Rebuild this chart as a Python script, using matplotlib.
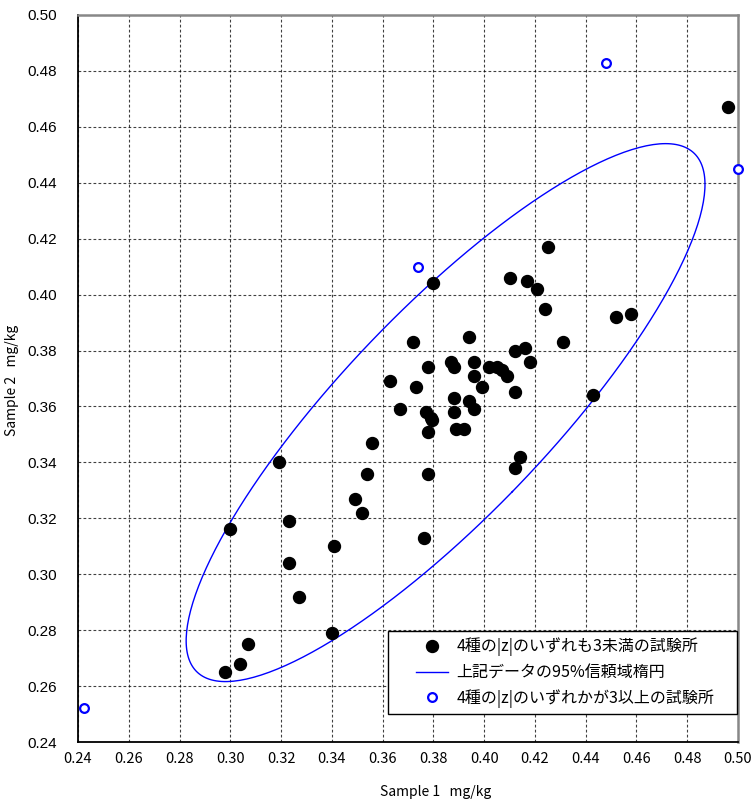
import numpy as np
import matplotlib
matplotlib.use("Agg")
import matplotlib.pyplot as plt
from matplotlib.lines import Line2D
from matplotlib.legend_handler import HandlerLine2D

plt.rcParams['font.family'] = ['Noto Sans CJK JP', 'DejaVu Sans']

# labs with all four |z| < 3
ok_x = [0.496, 0.425, 0.410, 0.417, 0.421, 0.424, 0.380, 0.394, 0.372, 0.431,
        0.412, 0.416, 0.418, 0.387, 0.388, 0.396, 0.378, 0.402, 0.405, 0.407,
        0.409, 0.396, 0.363, 0.373, 0.399, 0.412, 0.443, 0.388, 0.394, 0.367,
        0.377, 0.388, 0.396, 0.379, 0.3795, 0.378, 0.389, 0.392, 0.356, 0.414,
        0.412, 0.378, 0.354, 0.349, 0.352, 0.319, 0.300, 0.323, 0.341, 0.323,
        0.327, 0.340, 0.307, 0.304, 0.298, 0.3765, 0.452, 0.458]
ok_y = [0.467, 0.417, 0.406, 0.405, 0.402, 0.395, 0.404, 0.385, 0.383, 0.383,
        0.380, 0.381, 0.376, 0.376, 0.374, 0.376, 0.374, 0.374, 0.374, 0.373,
        0.371, 0.371, 0.369, 0.367, 0.367, 0.365, 0.364, 0.363, 0.362, 0.359,
        0.358, 0.358, 0.359, 0.356, 0.355, 0.351, 0.352, 0.352, 0.347, 0.342,
        0.338, 0.336, 0.336, 0.327, 0.322, 0.340, 0.316, 0.319, 0.310, 0.304,
        0.292, 0.279, 0.275, 0.268, 0.265, 0.313, 0.392, 0.393]

# labs with at least one |z| >= 3
out_x = [0.374, 0.448, 0.500, 0.2423]
out_y = [0.410, 0.483, 0.445, 0.252]

# statistics behind the 95% confidence ellipse
ell_center = (0.3848, 0.3578)
ell_sd = (0.04175, 0.0393)
ell_corr = 0.848
conf = 0.95

ticks = np.arange(0.24, 0.5001, 0.02)

fig = plt.figure(figsize=(7.53, 8.05), dpi=100)
ax = fig.add_axes([78 / 753, 1 - 742 / 805, 660 / 753, 727 / 805])

sx, sy = ell_sd
cov = np.array([[sx * sx, ell_corr * sx * sy], [ell_corr * sx * sy, sy * sy]])
k = np.sqrt(-2 * np.log(1 - conf))
vals, vecs = np.linalg.eigh(cov)
t = np.linspace(0, 2 * np.pi, 300)
circ = np.vstack([np.cos(t), np.sin(t)])
ell = (vecs @ np.diag(k * np.sqrt(vals)) @ circ).T + np.array(ell_center)
ax.plot(ell[:, 0], ell[:, 1], color="#0000ff", lw=1.0, zorder=3)

ax.plot(ok_x, ok_y, "o", ms=8.6, color="black", mec="black", zorder=4)
ax.plot(out_x, out_y, "o", ms=6.3, mfc="white", mec="#0000ff", mew=1.6,
        zorder=5, clip_on=False)

ax.set_xlim(0.24, 0.50)
ax.set_ylim(0.24, 0.50)
ax.set_xticks(ticks)
ax.set_yticks(ticks)
ax.set_xticklabels([f"{v:.2f}" for v in ticks], fontsize=10.5)
ax.set_yticklabels([f"{v:.2f}" for v in ticks], fontsize=11,
                   family=["Liberation Sans", "DejaVu Sans"])
ax.tick_params(axis="x", length=0, pad=7)
ax.tick_params(axis="y", length=0, pad=15)
ax.grid(True, color="black", lw=0.8, ls=(0, (2.5, 2)), alpha=0.75)
ax.set_axisbelow(True)
for side in ("left", "bottom"):
    ax.spines[side].set_color("black")
    ax.spines[side].set_linewidth(1.3)
for side in ("top", "right"):
    ax.spines[side].set_color("#888888")
    ax.spines[side].set_linewidth(1.8)

fig.text(436 / 753, 1 - 792 / 805, "Sample 1   mg/kg", fontsize=10,
         ha="center", va="center")
fig.text(12 / 753, 1 - 380 / 805, "Sample 2   mg/kg", fontsize=10,
         ha="center", va="center", rotation=90)

handles = [
    Line2D([], [], ls="none", marker="o", ms=8.6, color="black"),
    Line2D([], [], color="#0000ff", lw=1.0),
    Line2D([], [], ls="none", marker="o", ms=6.3, mfc="white",
           mec="#0000ff", mew=1.6),
]
labels = ["4種の|z|のいずれも3未満の試験所",
          "上記データの95%信頼域楕円",
          "4種の|z|のいずれかが3以上の試験所"]
# push the handles in from the frame's left edge
shifted = HandlerLine2D(xpad=1.35)
leg = ax.legend(handles, labels, loc="upper left",
                bbox_to_anchor=(310 / 660, (742 - 631) / 727, 349 / 660, 0.0),
                mode="expand", borderaxespad=0, fontsize=11.5, fancybox=False,
                framealpha=1, edgecolor="black", handlelength=3.35,
                handletextpad=0.55, labelspacing=0.5, borderpad=0.4,
                handler_map={h: shifted for h in handles})
leg.get_frame().set_linewidth(1.0)
leg.set_zorder(6)

fig.savefig("out.png", dpi=100)
